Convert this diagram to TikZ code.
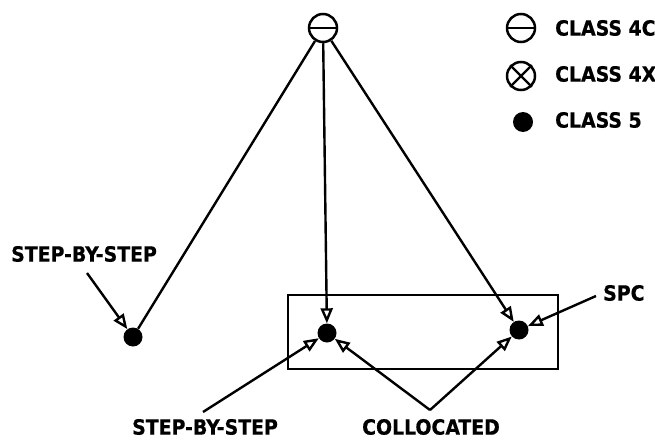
\documentclass[tikz,border=0pt]{standalone}
\usepackage{fontspec}
\newfontfamily\lblfont{DejaVu Sans Condensed Bold}[FakeBold=0.6]
\usetikzlibrary{arrows.meta}
\tikzset{
  wire/.style={line width=2.4pt},
  tip/.style={wire,-{Triangle[open,length=15pt,width=12pt,line width=2.4pt]}},
  sym/.style={circle,draw,line width=2.5pt,minimum size=28pt,inner sep=0pt},
  spot/.style={circle,fill,minimum size=19pt,inner sep=0pt},
  lbl/.style={font=\lblfont\fontsize{21}{21}\selectfont,inner sep=0pt},
}
\begin{document}
\begin{tikzpicture}[x=1pt,y=-1pt]
  \useasboundingbox (0,0) rectangle (655,441);

  % office symbols
  \node[sym] (top) at (323,28) {};
  \draw[wire] (top.west) -- (top.east);
  \node[spot] (sxs) at (133,337) {};
  \node[spot] (mid) at (327,333) {};
  \node[spot] (spc) at (519,330) {};

  % collocation box
  \draw[wire] (288,295) rectangle (558,369);

  % legend
  \node[sym] (k4c) at (521,28) {};
  \draw[wire] (k4c.west) -- (k4c.east);
  \node[sym] (k4x) at (521,76) {};
  \draw[wire] (k4x.north west) -- (k4x.south east);
  \draw[wire] (k4x.north east) -- (k4x.south west);
  \node[spot,minimum size=20pt] (k5) at (523,122) {};
  \node[lbl,anchor=west] (t4c) at (555,28) {CLASS 4C};
  \node[lbl,anchor=west] (t4x) at (555,74) {CLASS 4X};
  \node[lbl,anchor=west] (t5) at (555,120) {CLASS 5};

  % trunks from the class 4C office
  \draw[wire] (top) -- (sxs);
  \draw[tip] (top) -- (mid);
  \draw[tip] (top) -- (spc);

  % labels and pointers
  \node[lbl] (lsxs) at (84,254) {STEP-BY-STEP};
  \coordinate (psxs) at (87,273);
  \draw[tip] (psxs) -- (sxs);

  \node[lbl,anchor=west] (lspc) at (603,293) {SPC};
  \coordinate (pspc) at (596,296);
  \draw[tip] (pspc) -- (spc);

  \node[lbl] (lmid) at (205,427) {STEP-BY-STEP};
  \coordinate (pmid) at (203,412);
  \draw[tip] (pmid) -- (mid);

  \node[lbl] (lcol) at (431,427) {COLLOCATED};
  \coordinate (pcol) at (430,410);
  \draw[tip] (pcol) -- (mid);
  \draw[tip] (pcol) -- (spc);
\end{tikzpicture}
\end{document}
